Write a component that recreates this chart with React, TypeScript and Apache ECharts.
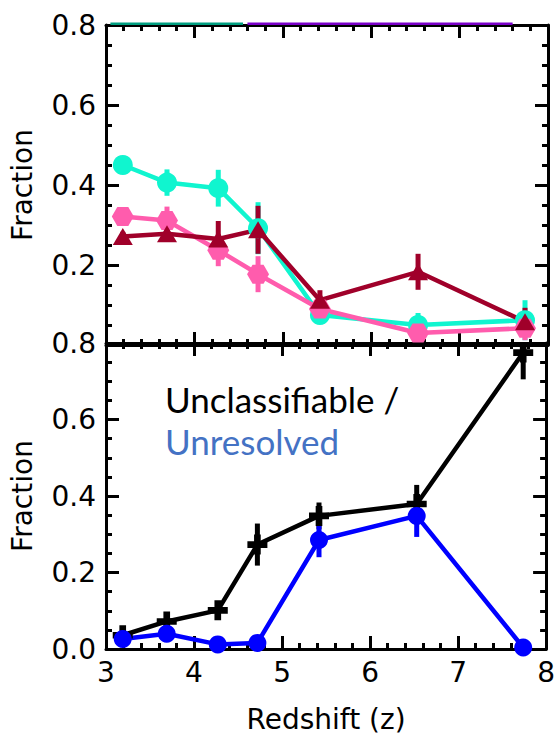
import React, { useEffect, useRef } from "react";
import * as echarts from "echarts";

// Redshift bins (shared)
const redshift = [3.19, 3.69, 4.27, 4.72, 5.42, 6.53, 7.74];

// Top panel
const tealVals = [0.45, 0.406, 0.392, 0.292, 0.075, 0.05, 0.062];
const tealErr = [0.012, 0.033, 0.046, 0.065, 0.02, 0.03, 0.05];
const pinkVals = [0.321, 0.311, 0.237, 0.177, 0.09, 0.03, 0.042];
const pinkErr = [0.012, 0.035, 0.04, 0.045, 0.02, 0.015, 0.03];
const redVals = [0.271, 0.278, 0.265, 0.288, 0.112, 0.183, 0.058];
const redErr = [0.012, 0.02, 0.045, 0.06, 0.025, 0.045, 0.035];

// Clipped series visible only along the top edge of the upper panel
const clipTealX = [3.05, 4.55];
const clipPurpleX = [4.6, 7.6];
const clipLevel = 0.803;

// Bottom panel
const blackVals = [0.036, 0.072, 0.101, 0.273, 0.348, 0.379, 0.775];
const blackErr = [0.01, 0.015, 0.02, 0.055, 0.035, 0.05, 0.07];
const blueVals = [0.026, 0.04, 0.012, 0.016, 0.285, 0.348, 0.004];
const blueErr = [0.005, 0.01, 0.005, 0.005, 0.045, 0.055, 0.005];

const xTicks = [3, 4, 5, 6, 7, 8];
const yTicks = [0, 0.2, 0.4, 0.6, 0.8];

const TEAL = "#10F5CF";
const PINK = "#FF5CAD";
const RED = "#A0002A";
const BLACK = "#000000";
const BLUE = "#0000FF";

const HEX = "path://M-1,0L-0.5,-0.866L0.5,-0.866L1,0L0.5,0.866L-0.5,0.866Z";
const PLUS = "path://M-1,-3H1V-1H3V1H1V3H-1V1H-3V-1H-1Z";

const FONT = "'DejaVu Sans'";
const FS = 28;

function pts(vals: number[]) {
  return redshift.map((z, i) => [z, vals[i]]);
}
function errPts(vals: number[], errs: number[]) {
  return redshift.map((z, i) => [z, vals[i], errs[i]]);
}

function errSeries(idx: number, vals: number[], errs: number[], color: string) {
  return {
    type: "custom",
    xAxisIndex: idx * 2,
    yAxisIndex: idx * 2,
    clip: true,
    data: errPts(vals, errs),
    encode: { x: 0, y: 1 },
    renderItem: (params: any, api: any) => {
      const x = api.value(0);
      const y = api.value(1);
      const e = api.value(2);
      const p1 = api.coord([x, y - e]);
      const p2 = api.coord([x, y + e]);
      return {
        type: "line",
        shape: { x1: p1[0], y1: p1[1], x2: p2[0], y2: p2[1] },
        style: { stroke: color, lineWidth: 5 },
      };
    },
  };
}

function lineSeries(idx: number, vals: number[], color: string, symbol: string, size: any) {
  return {
    type: "line",
    xAxisIndex: idx * 2,
    yAxisIndex: idx * 2,
    data: pts(vals),
    symbol,
    symbolSize: size,
    showAllSymbol: true,
    itemStyle: { color, opacity: 1 },
    lineStyle: { color, width: 4.5 },
    emphasis: { disabled: true },
  };
}

function xAxes(gridIndex: number, showLabels: boolean) {
  const common = {
    type: "value",
    gridIndex,
    min: xTicks[0],
    max: xTicks[xTicks.length - 1],
    interval: 1,
    splitLine: { show: false },
    axisLine: { show: true, onZero: false, lineStyle: { color: "#000", width: 3 } },
    axisTick: { show: true, inside: true, length: 13, lineStyle: { color: "#000", width: 3 } },
    minorTick: { show: true, splitNumber: 5, length: 6, lineStyle: { color: "#000", width: 3 } },
    minorSplitLine: { show: false },
  };
  return [
    {
      ...common,
      position: "bottom",
      axisLabel: {
        show: showLabels,
        color: "#000",
        fontFamily: FONT,
        fontSize: FS,
        margin: 9,
      },
      name: showLabels ? "Redshift (z)" : "",
      nameLocation: "middle",
      nameGap: 56,
      nameTextStyle: { color: "#000", fontFamily: FONT, fontSize: FS },
    },
    { ...common, position: "top", axisLabel: { show: false } },
  ];
}

function yAxes(gridIndex: number, hideZero: boolean) {
  const common = {
    type: "value",
    gridIndex,
    min: yTicks[0],
    max: yTicks[yTicks.length - 1],
    interval: 0.2,
    splitLine: { show: false },
    axisLine: { show: true, onZero: false, lineStyle: { color: "#000", width: 3 } },
    axisTick: { show: true, inside: true, length: 13, lineStyle: { color: "#000", width: 3 } },
    minorTick: { show: true, splitNumber: 4, length: 6, lineStyle: { color: "#000", width: 3 } },
    minorSplitLine: { show: false },
  };
  return [
    {
      ...common,
      position: "left",
      axisLabel: {
        color: "#000",
        fontFamily: FONT,
        fontSize: FS,
        margin: 10,
        formatter: (v: number) => (hideZero && Math.abs(v) < 1e-9 ? "" : v.toFixed(1)),
      },
      name: "Fraction",
      nameLocation: "middle",
      nameGap: 70,
      nameTextStyle: { color: "#000", fontFamily: FONT, fontSize: FS },
    },
    { ...common, position: "right", axisLabel: { show: false } },
  ];
}

export default function App() {
  const ref = useRef<HTMLDivElement>(null);
  useEffect(() => {
    if (!ref.current) return;
    const chart = echarts.init(ref.current, undefined, { renderer: "svg" });
    const option: any = {
      animation: false,
      backgroundColor: "#ffffff",
      grid: [
        { left: 106, right: 10, top: 25, height: 320 },
        { left: 106, right: 10, top: 343, height: 319 },
      ],
      xAxis: [...xAxes(0, false), ...xAxes(1, true)],
      yAxis: [...yAxes(0, true), ...yAxes(1, false)],
      series: [
        {
          type: "line",
          xAxisIndex: 0,
          yAxisIndex: 0,
          clip: false,
          symbol: "none",
          data: clipTealX.map((x) => [x, clipLevel]),
          lineStyle: { color: "#009E80", width: 2.5 },
          z: 1,
        },
        {
          type: "line",
          xAxisIndex: 0,
          yAxisIndex: 0,
          clip: false,
          symbol: "none",
          data: clipPurpleX.map((x) => [x, clipLevel]),
          lineStyle: { color: "#7A00C8", width: 2.5 },
          z: 1,
        },
        errSeries(0, tealVals, tealErr, TEAL),
        lineSeries(0, tealVals, TEAL, "circle", 20),
        errSeries(0, pinkVals, pinkErr, PINK),
        lineSeries(0, pinkVals, PINK, HEX, [22, 19]),
        errSeries(0, redVals, redErr, RED),
        lineSeries(0, redVals, RED, "triangle", [20, 17]),
        errSeries(1, blackVals, blackErr, BLACK),
        lineSeries(1, blackVals, BLACK, PLUS, 20),
        errSeries(1, blueVals, blueErr, BLUE),
        lineSeries(1, blueVals, BLUE, "circle", 18),
      ],
      graphic: [
        {
          type: "text",
          left: 165,
          top: 381,
          style: {
            text: "Unclassifiable /",
            fill: "#000",
            font: "35px Lato",
          },
        },
        {
          type: "text",
          left: 165,
          top: 423,
          style: {
            text: "Unresolved",
            fill: "#4472C4",
            font: "35px Lato",
          },
        },
      ],
    };
    chart.setOption(option);
    return () => chart.dispose();
  }, []);
  return (
    <div
      ref={ref}
      style={{ position: "fixed", left: 0, top: 0, width: 558, height: 734, background: "#fff" }}
    />
  );
}
